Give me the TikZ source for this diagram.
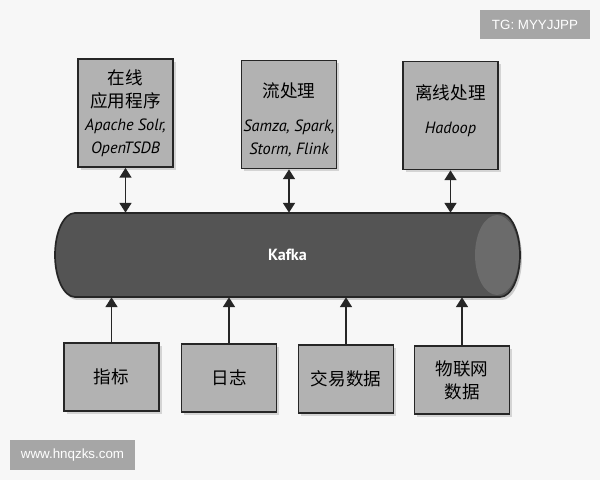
\documentclass[tikz,border=0pt]{standalone}
\usepackage{fontspec}
\newfontfamily\cjkfont{Noto Sans CJK SC}
\newfontfamily\latfont{PT Sans}
\newfontfamily\wmfont{Liberation Sans}
\usetikzlibrary{shadows,arrows.meta}
\newcommand\latit[1]{{\latfont\itshape\fontsize{11.6}{16.3}\selectfont #1}}
\begin{document}
\begin{tikzpicture}[x=0.025cm,y=0.025cm,
    box/.style={draw=black!85,line width=1.2pt,fill=black!30,align=center,
      minimum width=2.375cm,inner sep=0pt,
      font=\cjkfont\fontsize{12.5}{16.3}\selectfont,
      drop shadow={shadow xshift=2pt,shadow yshift=-2pt,fill=black!30}},
    tag/.style={fill=black!35,text=white,inner sep=0pt,
      font=\wmfont\fontsize{9.5}{11}\selectfont}]
      \fill[black!3] (0,0) rectangle (600,480);
      \useasboundingbox (0,0) rectangle (600,480);
      % Kafka pipe
      \fill[black!20] (77,180) -- (502,180) arc[start angle=-90,end angle=90,x radius=20,y radius=42]
        -- (77,264) arc[start angle=90,end angle=270,x radius=20,y radius=42] -- cycle;
      \fill[black!67] (75,267) -- (500,267) arc[start angle=90,end angle=-90,x radius=20,y radius=42]
        -- (75,183) arc[start angle=270,end angle=90,x radius=20,y radius=42] -- cycle;
      \fill[black!58] (497,225) ellipse[x radius=22,y radius=40];
      \draw[black!85,line width=1.2pt] (75,267) -- (500,267) arc[start angle=90,end angle=-90,x radius=20,y radius=42]
        -- (75,183) arc[start angle=270,end angle=90,x radius=20,y radius=42] -- cycle;
      \path
        (125.5,367) node[box,minimum height=2.7cm] (online){在线\\应用程序\\\latit{Apache Solr,}\\\latit{OpenTSDB}}
        (289,365.5) node[box,minimum height=2.7cm] (stream){\rule{0pt}{18pt}流处理\\[8pt]\latit{Samza, Spark,}\\\latit{Storm, Flink}}
        (450.5,364.5) node[box,minimum height=2.7cm] (offline){离线处理\\[8pt]\latit{Hadoop}\rule[-9pt]{0pt}{0pt}}
        (287.5,225) node[minimum width=11.625cm,minimum height=2.1cm,inner sep=0pt,
          text=white,font=\latfont\bfseries\fontsize{11.5}{13}\selectfont] (kafka){Kafka}
        (111.5,103) node[box,minimum height=1.7cm] (metrics){指标}
        (229,102) node[box,minimum height=1.7cm] (logs){日志}
        (346,101) node[box,minimum height=1.7cm] (trade){交易数据}
        (462,100) node[box,minimum height=1.7cm] (iot){物联网\\数据};
      \begin{scope}[line width=1.2pt,draw=black!85,
          {Triangle[width=8.5pt,length=7pt]}-{Triangle[width=8.5pt,length=7pt]}]
        \draw (online) to (online |- kafka.north);
        \draw (stream) to (stream |- kafka.north);
        \draw (offline) to (offline |- kafka.north);
      \end{scope}
      \begin{scope}[line width=1.2pt,draw=black!85,-{Triangle[width=8.5pt,length=7pt]}]
        \draw (metrics) to (metrics |- kafka.south);
        \draw (logs) to (logs |- kafka.south);
        \draw (trade) to (trade |- kafka.south);
        \draw (iot) to (iot |- kafka.south);
      \end{scope}
      \path
        (535,455.5) node[tag,minimum width=2.75cm,minimum height=0.725cm] (tg){TG: MYYJJPP}
        (72.5,25) node[tag,minimum width=3.125cm,minimum height=0.75cm] (url){www.hnqzks.com};
    \end{tikzpicture}
\end{document}
